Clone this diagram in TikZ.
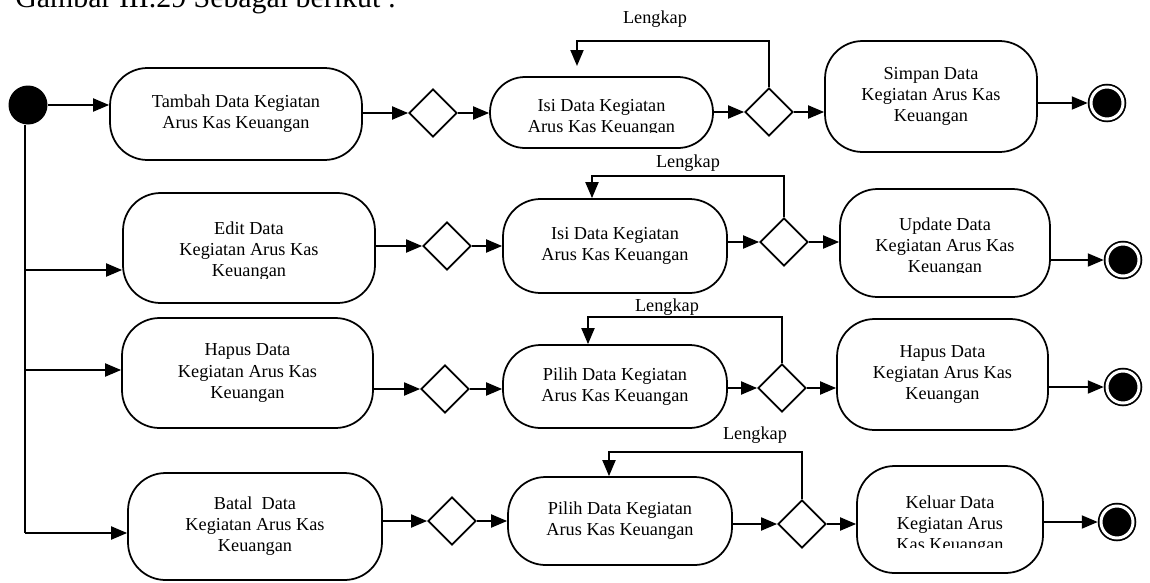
\documentclass[tikz,border=0pt]{standalone}
\usepackage{fontspec}
\setmainfont{Liberation Serif}
\usetikzlibrary{shapes.geometric, arrows.meta}
\begin{document}
\begin{tikzpicture}[x=0.02cm, y=-0.02cm,
  lblfont/.style={font=\fontsize{10.4}{12}\selectfont},
  act/.style={draw, line width=1pt, rounded corners=0.75cm, align=center, inner sep=0pt, lblfont},
  txt/.style={align=center, inner sep=0pt, lblfont},
  dec/.style={draw, diamond, line width=1pt, minimum width=0.96cm, minimum height=0.96cm, inner sep=0pt},
  flow/.style={line width=1.1pt, -{Triangle[length=0.32cm, width=0.26cm]}},
  plain/.style={line width=1.1pt},
  start/.style={circle, fill=black, minimum size=0.78cm, inner sep=0pt},
  stop/.style={circle, fill=black, draw=black, line width=1pt, double=white, double distance=0.06cm,
    minimum size=0.64cm, inner sep=0pt, outer sep=0.065cm},
  guard/.style={inner sep=0pt, lblfont}
]
\useasboundingbox (0,0) rectangle (1150,582);
\clip (0,0) rectangle (1150,582);

% heading line of the page, cut by the top edge
\node[anchor=base west, inner sep=0pt, font=\fontsize{17}{20}\selectfont] (title) at (15,7) {Gambar III.29 Sebagai berikut :};

% start node
\node[start] (init) at (28,105) {};

% ---------- row 1: tambah ----------
\node[act, minimum width=5.04cm, minimum height=1.84cm] (tambah) at (236,114) {Tambah Data Kegiatan\\Arus Kas Keuangan};
\node[dec] (d1a) at (433,113) {};
\node[act, rounded corners=0.7cm, minimum width=4.46cm, minimum height=1.42cm] (isi1) at (601.5,112.5) {};
\begin{scope}
  \clip (490,77) rectangle (713,132);
  \node[txt] (isi1-text) at (601.5,118) {Isi Data Kegiatan\\Arus Kas Keuangan};
\end{scope}
\node[dec] (d1b) at (769,112) {};
\node[act, minimum width=4.24cm, minimum height=2.22cm] (simpan) at (931,96.5) {Simpan Data\\Kegiatan Arus Kas\\Keuangan};
\node[stop] (f1) at (1107,103) {};
\node[guard] (lk1) at (655,19) {Lengkap};
\coordinate (l1top) at (577,41);
\coordinate (l1end) at (577,66);

% ---------- row 2: edit ----------
\node[act, minimum width=5.04cm, minimum height=2.20cm] (edit) at (249,248) {};
\begin{scope}
  \clip (123,193) rectangle (375,278);
  \node[txt] (edit-text) at (249,251) {Edit Data\\Kegiatan Arus Kas\\Keuangan};
\end{scope}
\node[dec] (d2a) at (447,246) {};
\node[act, minimum width=4.48cm, minimum height=1.88cm] (isi2) at (615,246) {Isi Data Kegiatan\\Arus Kas Keuangan};
\node[dec] (d2b) at (784,242) {};
\node[act, minimum width=4.20cm, minimum height=2.16cm] (update) at (945,243) {};
\begin{scope}
  \clip (840,189) rectangle (1050,272);
  \node[txt] (update-text) at (945,247) {Update Data\\Kegiatan Arus Kas\\Keuangan};
\end{scope}
\node[stop] (f2) at (1123,260) {};
\node[guard] (lk2) at (688,163) {Lengkap};
\coordinate (l2top) at (592,176);

% ---------- row 3: hapus ----------
\node[act, minimum width=5.02cm, minimum height=2.20cm] (hapus1) at (247.5,373) {Hapus Data\\Kegiatan Arus Kas\\Keuangan};
\node[dec] (d3a) at (445,389) {};
\node[act, minimum width=4.48cm, minimum height=1.66cm] (pilih3) at (615,386.5) {Pilih Data Kegiatan\\Arus Kas Keuangan};
\node[dec] (d3b) at (782,388) {};
\node[act, minimum width=4.22cm, minimum height=2.22cm] (hapus2) at (942.5,374.5) {Hapus Data\\Kegiatan Arus Kas\\Keuangan};
\node[stop] (f3) at (1123,387) {};
\node[guard] (lk3) at (667,307) {Lengkap};
\coordinate (l3top) at (588,317);

% ---------- row 4: batal ----------
\node[act, minimum width=5.08cm, minimum height=2.14cm] (batal) at (255,526.5) {Batal\ \ Data\\Kegiatan Arus Kas\\Keuangan};
\node[dec] (d4a) at (452,521) {};
\node[act, minimum width=4.48cm, minimum height=1.76cm] (pilih4) at (620,521) {Pilih Data Kegiatan\\Arus Kas Keuangan};
\node[dec] (d4b) at (802,524) {};
\node[act, minimum width=3.72cm, minimum height=2.14cm] (keluar) at (950,519.5) {};
\begin{scope}
  \clip (857,466) rectangle (1043,547);
  \node[txt] (keluar-text) at (950,525) {Keluar Data\\Kegiatan Arus\\Kas Keuangan};
\end{scope}
\node[stop] (f4) at (1117,522) {};
\node[guard] (lk4) at (755,435) {Lengkap};
\coordinate (l4top) at (609,452);

% ---------- fork from the start node ----------
\coordinate (t2) at (25,270);
\coordinate (t3) at (25,370);
\coordinate (t4) at (25,533);
\draw[plain] (init.south -| t4) -- (t4);
\draw[flow] (init) -- (init -| tambah.west);
\draw[flow] (t2) -- (t2 -| edit.west);
\draw[flow] (t3) -- (t3 -| hapus1.west);
\draw[flow] (t4) -- (t4 -| batal.west);

% ---------- row 1 flows ----------
\draw[flow] (tambah.east |- d1a) -- (d1a);
\draw[flow] (d1a) -- (d1a -| isi1.west);
\draw[flow] (isi1.east |- d1b) -- (d1b);
\draw[flow] (d1b) -- (d1b -| simpan.west);
\draw[flow] (simpan.east |- f1) -- (f1);
\draw[flow] (d1b.north) |- (l1top) -- (l1end);

% ---------- row 2 flows ----------
\draw[flow] (edit.east |- d2a) -- (d2a);
\draw[flow] (d2a) -- (d2a -| isi2.west);
\draw[flow] (isi2.east |- d2b) -- (d2b);
\draw[flow] (d2b) -- (d2b -| update.west);
\draw[flow] (update.east |- f2) -- (f2);
\draw[flow] (d2b.north) |- (l2top) -- (l2top |- isi2.north);

% ---------- row 3 flows ----------
\draw[flow] (hapus1.east |- d3a) -- (d3a);
\draw[flow] (d3a) -- (d3a -| pilih3.west);
\draw[flow] (pilih3.east |- d3b) -- (d3b);
\draw[flow] (d3b) -- (d3b -| hapus2.west);
\draw[flow] (hapus2.east |- f3) -- (f3);
\draw[flow] (d3b.north) |- (l3top) -- (l3top |- pilih3.north);

% ---------- row 4 flows ----------
\draw[flow] (batal.east |- d4a) -- (d4a);
\draw[flow] (d4a) -- (d4a -| pilih4.west);
\draw[flow] (pilih4.east |- d4b) -- (d4b);
\draw[flow] (d4b) -- (d4b -| keluar.west);
\draw[flow] (keluar.east |- f4) -- (f4);
\draw[flow] (d4b.north) |- (l4top) -- (l4top |- pilih4.north);
\end{tikzpicture}
\end{document}
